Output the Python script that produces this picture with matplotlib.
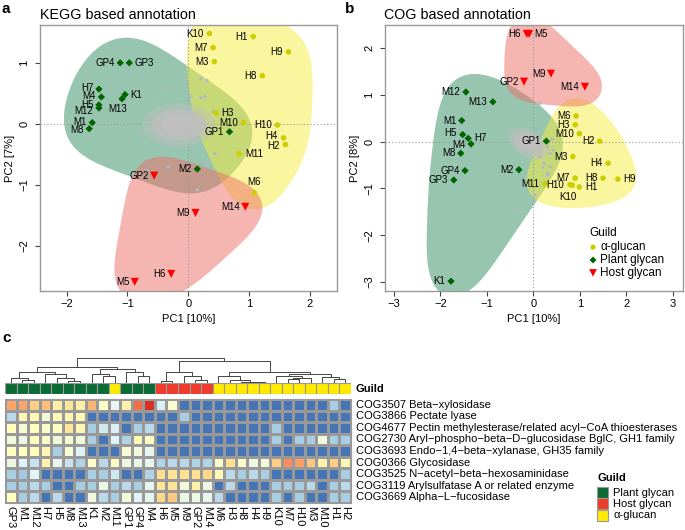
import numpy as np
import matplotlib
matplotlib.use('Agg')
import matplotlib.pyplot as plt
from matplotlib.patches import Polygon, Ellipse, Rectangle
from matplotlib.colors import LinearSegmentedColormap

plt.rcParams['font.family'] = ['Liberation Sans', 'DejaVu Sans']

# ---------------- data ----------------
samples = ['H1', 'H2', 'H3', 'H4', 'H5', 'H6', 'H7', 'H8', 'H9', 'H10',
           'M1', 'M2', 'M3', 'M4', 'M5', 'M6', 'M7', 'M8', 'M9', 'M10',
           'M11', 'M12', 'M13', 'M14', 'K1', 'K10', 'GP1', 'GP2', 'GP3', 'GP4']
guild = ['A', 'A', 'A', 'A', 'P', 'H', 'P', 'A', 'A', 'A',
         'P', 'P', 'A', 'P', 'H', 'A', 'A', 'P', 'H', 'A',
         'A', 'P', 'P', 'H', 'P', 'A', 'P', 'H', 'P', 'P']

kegg_pc1 = [1.07, 1.60, 0.46, 1.57, -1.47, -0.28, -1.47, 1.22, 1.65, 1.47,
            -1.58, 0.15, 0.43, -1.43, -0.88, 1.09, 0.41, -1.63, 0.12, 0.91,
            0.84, -1.47, -1.09, 0.94, -1.04, 0.35, 0.68, -0.56, -0.97, -1.12]
kegg_pc2 = [1.43, -0.34, 0.18, -0.23, 0.31, -2.46, 0.57, 0.79, 1.18, -0.02,
            0.02, -0.74, 1.02, 0.44, -2.59, -1.13, 1.25, -0.08, -1.46, 0.02,
            -0.49, 0.26, 0.41, -1.36, 0.48, 1.48, -0.13, -0.85, 1.00, 1.00]

cog_pc1 = [0.99, 1.43, 0.90, 1.61, -1.52, -0.14, -1.40, 1.50, 1.82, 0.79,
           -1.54, -0.31, 0.85, -1.34, -0.09, 0.92, 0.90, -1.56, 0.38, 0.99,
           0.25, -1.45, -0.87, 1.11, -1.77, 0.84, 0.28, -0.20, -1.71, -1.47]
cog_pc2 = [-0.97, 0.01, 0.36, -0.46, 0.15, 2.30, 0.07, -0.78, -0.80, -0.92,
           0.45, -0.60, -0.32, -0.05, 2.30, 0.55, -0.78, -0.25, 1.45, 0.17,
           -0.90, 1.06, 0.85, 1.17, -2.98, -0.93, 0.01, 1.28, -0.82, -0.62]

# scattered gene loadings (grey dots outside the dense core)
cloud_a_x = [0.21, 0.31, 0.21, 0.28, 0.41, -0.38, -0.68, -0.75, -0.36, -0.68, -0.33, 0.15, 0.31, 0.44, -0.55, 0.05]
cloud_a_y = [0.74, 0.71, 0.43, 0.45, 0.20, 0.58, 0.12, -0.14, -0.33, -0.77, -0.70, -1.08, -0.67, -0.49, 0.35, 0.45]
cloud_b_x = [0.14, 0.31, 0.43, 0.36, 0.14, 0.23, 0.31, 0.04, -0.35, 0.21, 0.36, 0.31, -0.55, 0.40]
cloud_b_y = [0.82, -0.11, -0.18, -0.25, -0.32, -0.46, -0.71, -1.14, -1.43, -0.55, -0.54, -0.68, 0.25, 0.05]

# heatmap
col_order = ['GP3', 'M1', 'M12', 'H7', 'H5', 'M8', 'M13', 'K1', 'M2', 'M11',
             'GP1', 'GP4', 'M4', 'H6', 'M5', 'M9', 'GP2', 'M14', 'M6', 'H3',
             'H8', 'H4', 'H9', 'K10', 'M7', 'H10', 'M3', 'M10', 'H1', 'H2']
row_labels = ['COG3507 Beta\u2212xylosidase',
              'COG3866 Pectate lyase',
              'COG4677 Pectin methylesterase/related acyl\u2212CoA thioesterases',
              'COG2730 Aryl\u2212phospho\u2212beta\u2212D\u2212glucosidase BglC, GH1 family',
              'COG3693 Endo\u22121,4\u2212beta\u2212xylanase, GH35 family',
              'COG0366 Glycosidase',
              'COG3525 N\u2212acetyl\u2212beta\u2212hexosaminidase',
              'COG3119 Arylsulfatase A or related enzyme',
              'COG3669 Alpha\u2212L\u2212fucosidase']
heat = [
    [4.7, 4.7, 4.2, 4.4, 3.5, 3.8, 3.5, 4.5, 2.8, 2.2, 3.4, 5.3, 6.0, 1.9, 2.7,
     0, 0, 0, 0, 0, 0, 0, 0, 0, 0, 0, 0, 0, 1.3, 0],
    [1.5, 3.3, 3.2, 2.6, 3.2, 3.3, 3.2, 0, 0, 0, 0, 0, 0, 0, 0,
     1.3, 0, 0, 0, 0, 0, 0, 0, 0, 0, 0, 0, 0, 0, 0],
    [3.0, 2.7, 3.0, 2.8, 3.0, 3.8, 3.3, 1.3, 1.8, 1.9, 0, 1.3, 1.5, 0, 0,
     0, 0, 0, 0, 0, 0, 0, 0, 1.3, 0, 0, 0, 0, 0, 0],
    [2.5, 2.4, 3.0, 2.8, 2.5, 2.7, 2.5, 1.3, 0, 2.0, 1.4, 3.2, 2.9, 0, 0,
     0, 0, 0, 0, 0, 0, 0, 0, 1.3, 0, 1.3, 1.3, 2.5, 1.3, 1.3],
    [3.0, 3.0, 3.1, 3.3, 1.3, 2.7, 2.0, 0, 0, 0, 2.6, 2.5, 2.2, 0, 0,
     0, 0, 0, 0, 0, 0, 0, 0, 0, 0, 0, 0, 0, 0, 0],
    [2.4, 2.0, 1.7, 3.4, 2.2, 1.7, 1.4, 2.9, 1.5, 2.9, 2.4, 2.3, 2.2, 1.4, 1.5,
     1.5, 1.4, 1.4, 2.8, 4.0, 2.8, 2.4, 2.6, 4.2, 5.0, 4.8, 4.3, 3.4, 4.2, 3.2],
    [1.3, 1.2, 2.0, 0, 0, 0, 0, 1.3, 1.3, 1.8, 0, 0, 1.4, 4.0, 3.9,
     4.0, 4.0, 4.1, 3.2, 1.5, 1.3, 1.5, 1.3, 0, 0, 0, 0, 0, 0, 1.3],
    [1.3, 1.3, 1.5, 1.3, 0, 0, 1.3, 1.3, 2.3, 1.3, 1.5, 1.3, 2.2, 3.8, 3.9,
     2.6, 3.5, 2.4, 0, 1.5, 0, 0, 0, 1.3, 1.3, 1.3, 1.5, 0, 1.3, 1.5],
    [3.0, 1.3, 1.5, 0, 1.5, 0, 0, 2.5, 1.5, 1.3, 2.6, 2.0, 2.2, 4.1, 4.3,
     2.3, 2.4, 2.2, 1.5, 0, 0, 0, 0, 1.3, 0, 1.3, 0, 0, 1.3, 1.3],
]
# column dendrogram: (height, left, right), leaves = column positions
dendro = (1.0,
          (0.65,
           (0.45, (0.20, 0, (0.12, 1, 2)), (0.35, 3, (0.20, 4, (0.09, 5, 6)))),
           (0.58, (0.35, 7, (0.27, 8, 9)), (0.45, 10, (0.27, 11, 12)))),
          (0.88,
           (0.45, (0.09, 13, 14), (0.27, 15, (0.12, 16, 17))),
           (0.45,
            (0.27, 18, (0.12, 19, (0.05, 20, (0.04, 21, 22)))),
            (0.35, (0.30, 23, (0.20, (0.15, 24, 25), 26)), (0.25, 27, (0.15, 28, 29))))))

# ---------------- styles ----------------
pt_col = {'A': '#cdcd00', 'P': '#006400', 'H': '#ff0000'}
pt_mark = {'A': 'o', 'P': 'D', 'H': 'v'}
pt_size = {'A': 16, 'P': 14, 'H': 34}
hull_col = {'A': (0.97, 0.93, 0.25, 0.5), 'P': (0.14, 0.52, 0.34, 0.47), 'H': (0.93, 0.43, 0.40, 0.5)}
guild_bar_col = {'P': '#0b6b35', 'H': '#ee3b2c', 'A': '#ffea00'}
hull_r_a = {'P': 0.5, 'A': 0.42, 'H': 0.4}
hull_r_b = {'P': 0.55, 'A': 0.48, 'H': 0.45}

# label placement: side and extra vertical shift (points)
lab_a = {'H1': 'l', 'H2': 'l', 'H3': 'r', 'H4': 'l', 'H5': 'l', 'H6': 'l', 'H7': 'l', 'H8': 'l',
         'H9': 'l', 'H10': 'l', 'M1': 'l', 'M2': 'l', 'M3': 'l', 'M4': 'l', 'M5': 'l', 'M6': 't',
         'M7': 'l', 'M8': 'l', 'M9': 'l', 'M10': 'l', 'M11': 'r', 'M12': 'l', 'M13': 'b',
         'M14': 'l', 'K1': 'r', 'K10': 'l', 'GP1': 'l', 'GP2': 'l', 'GP3': 'r', 'GP4': 'l'}
dy_a = {'H7': 1.0, 'M4': 0.5, 'H5': 0.0, 'M12': -2.5, 'M1': 0.5, 'M8': -1.2, 'H4': 1.0, 'H2': -1.0}
lab_b = {k: 'l' for k in samples}
lab_b.update({'M5': 'r', 'H7': 'r', 'H9': 'r', 'H1': 'r', 'K10': 'b'})
dy_b = {'H5': 1.0, 'M4': -1.0, 'K10': -1.0}


def convex_hull(p):
    p = sorted(set(map(tuple, p)))
    def cross(o, a, b):
        return (a[0]-o[0])*(b[1]-o[1]) - (a[1]-o[1])*(b[0]-o[0])
    lower, upper = [], []
    for q in p:
        while len(lower) >= 2 and cross(lower[-2], lower[-1], q) <= 0:
            lower.pop()
        lower.append(q)
    for q in reversed(p):
        while len(upper) >= 2 and cross(upper[-2], upper[-1], q) <= 0:
            upper.pop()
        upper.append(q)
    return np.array(lower[:-1] + upper[:-1])


def blob_hull(x, y, r, win):
    pts = np.column_stack([x, y])
    th = np.linspace(0, 2*np.pi, 64, endpoint=False)
    circ = (pts[:, None, :] + r * np.stack([np.cos(th), np.sin(th)], axis=1)[None]).reshape(-1, 2)
    poly = convex_hull(circ)
    closed = np.vstack([poly, poly[:1]])
    seg = np.hypot(*np.diff(closed, axis=0).T)
    cum = np.concatenate([[0], np.cumsum(seg)])
    N = 400
    tt = np.linspace(0, cum[-1], N, endpoint=False)
    rs = np.column_stack([np.interp(tt, cum, closed[:, 0]), np.interp(tt, cum, closed[:, 1])])
    k = max(1, int(win * N))
    kern = np.ones(2*k+1) / (2*k+1)
    for _ in range(2):
        ext = np.vstack([rs[-k:], rs, rs[:k]])
        rs = np.column_stack([np.convolve(ext[:, 0], kern, 'valid'), np.convolve(ext[:, 1], kern, 'valid')])
    return rs


W, H = 685, 530
fig = plt.figure(figsize=(W/100, H/100), dpi=100)


def fax(l, t, r, b):
    return fig.add_axes([l/W, 1-b/H, (r-l)/W, (b-t)/H])


def pca_panel(ax, px, py, cx, cy, core, labpos, dys, radii, win, xlim, ylim, xt, yt, ylabel):
    px = np.array(px); py = np.array(py)
    g = np.array(guild)
    for k in ['P', 'A', 'H']:
        m = g == k
        poly = blob_hull(px[m], py[m], radii[k], win)
        ax.add_patch(Polygon(poly, closed=True, facecolor=hull_col[k], edgecolor='none', zorder=1))
    # dense core of loadings
    for (w, hgt, a) in [(1.2, 0.95, 0.45), (0.9, 0.68, 0.8), (0.6, 0.45, 1.0)]:
        ax.add_patch(Ellipse(core[:2], w*core[2], hgt*core[3], angle=core[4], facecolor=(0.75, 0.75, 0.75, a),
                             edgecolor='none', zorder=2))
    ax.scatter(cx, cy, s=6, color='#b2b8c8', edgecolors='none', zorder=2)
    ax.axhline(0, color='#999999', ls=(0, (1, 2)), lw=0.8, zorder=1.5)
    ax.axvline(0, color='#999999', ls=(0, (1, 2)), lw=0.8, zorder=1.5)
    for k in ['A', 'P', 'H']:
        m = g == k
        ax.scatter(px[m], py[m], s=pt_size[k], marker=pt_mark[k], color=pt_col[k], edgecolors='none', zorder=4)
    for i, sname in enumerate(samples):
        pos = labpos[sname]
        dy = dys.get(sname, 0)
        if pos == 'l':
            off, ha, va = (-4, dy), 'right', 'center'
        elif pos == 'r':
            off, ha, va = (4, dy), 'left', 'center'
        elif pos == 't':
            off, ha, va = (0, 4 + dy), 'center', 'bottom'
        else:
            off, ha, va = (-3, -4 + dy), 'center', 'top'
        ax.annotate(sname, (px[i], py[i]), xytext=off, textcoords='offset points', ha=ha, va=va,
                    fontsize=7, zorder=5)
    ax.set_xlim(*xlim); ax.set_ylim(*ylim)
    ax.set_xticks(xt); ax.set_yticks(yt)
    ax.tick_params(direction='out', length=3.6, width=0.8, color='#444444', labelsize=8, pad=2.5)
    ax.tick_params(axis='y', labelrotation=90, pad=4)
    for lb in ax.get_yticklabels():
        lb.set_va('center')
    for sp in ax.spines.values():
        sp.set_color('#999999'); sp.set_linewidth(1.0)
    ax.set_xlabel('PC1 [10%]', fontsize=8, labelpad=3)
    ax.set_ylabel(ylabel, fontsize=8, labelpad=3)


axa = fax(40, 25, 337, 291)
pca_panel(axa, kegg_pc1, kegg_pc2, cloud_a_x, cloud_a_y, (-0.15, -0.02, 1.0, 0.75, 0), lab_a, dy_a, hull_r_a, 0.05,
          (-2.44, 2.45), (-2.74, 1.62), [-2, -1, 0, 1, 2], [-2, -1, 0, 1], 'PC2 [7%]')
axb = fax(385, 25, 683, 291)
pca_panel(axb, cog_pc1, cog_pc2, cloud_b_x, cloud_b_y, (-0.1, -0.04, 0.8, 0.6, -30), lab_b, dy_b, hull_r_b, 0.05,
          (-3.19, 3.22), (-3.19, 2.49), [-3, -2, -1, 0, 1, 2, 3], [-3, -2, -1, 0, 1, 2], 'PC2 [8%]')

fig.text(40/W, 1-15/H, 'KEGG based annotation', fontsize=10.3, va='center', ha='left')
fig.text(384/W, 1-15/H, 'COG based annotation', fontsize=10.3, va='center', ha='left')
fig.text(2/W, 1-9/H, 'a', fontsize=11, fontweight='bold', va='center', ha='left')
fig.text(345/W, 1-9/H, 'b', fontsize=11, fontweight='bold', va='center', ha='left')
fig.text(2/W, 1-338/H, 'c', fontsize=11, fontweight='bold', va='center', ha='left')

# legend in b
axb.text(0.685, 0.218, 'Guild', transform=axb.transAxes, fontsize=8.5, va='center', ha='left')
for j, (k, name) in enumerate([('A', '\u03b1-glucan'), ('P', 'Plant glycan'), ('H', 'Host glycan')]):
    yy = 0.165 - j*0.0485
    axb.scatter([0.698], [yy], s=pt_size[k]*0.9, marker=pt_mark[k], color=pt_col[k], edgecolors='none',
                transform=axb.transAxes, clip_on=False, zorder=6)
    axb.text(0.722, yy, name, transform=axb.transAxes, fontsize=8.5, va='center', ha='left')

# ---------------- heatmap ----------------
cmap = LinearSegmentedColormap.from_list('rdylbu_r', ['#4575B4', '#91BFDB', '#E0F3F8', '#FFFFBF',
                                                      '#FEE090', '#FC8D59', '#D73027'])
ncol = len(col_order); nrow = len(row_labels)
axh = fax(5, 399, 351, 503)
axh.pcolormesh(np.arange(ncol+1), np.arange(nrow+1), np.array(heat), cmap=cmap, vmin=0, vmax=6,
               edgecolors='#999999', linewidth=0.8)
axh.set_xlim(0, ncol); axh.set_ylim(nrow, 0)
axh.set_xticks(np.arange(ncol)+0.5)
axh.set_xticklabels(col_order, rotation=-90, fontsize=8)
axh.set_yticks([])
axh.tick_params(axis='x', length=0, pad=2)
for sp in axh.spines.values():
    sp.set_color('#999999'); sp.set_linewidth(0.8)
for j, lab in enumerate(row_labels):
    axh.text(ncol + 0.43, j + 0.5, lab, fontsize=8, va='center', ha='left')

axg = fax(5, 383, 351, 394)
gmap = dict(zip(samples, guild))
for i, sname in enumerate(col_order):
    axg.add_patch(Rectangle((i, 0), 1, 1, facecolor=guild_bar_col[gmap[sname]], edgecolor='#999999', lw=0.8))
axg.set_xlim(0, ncol); axg.set_ylim(0, 1)
axg.axis('off')
axg.text(ncol + 0.43, 0.5, 'Guild', fontsize=8, fontweight='bold', va='center', ha='left')

axd = fax(5, 358, 351, 383)
axd.set_xlim(0, ncol); axd.set_ylim(0, 1.02)
axd.axis('off')


def draw_node(node):
    if isinstance(node, int):
        return node + 0.5, 0.0
    hgt, l, r = node
    xl, hl = draw_node(l)
    xr, hr = draw_node(r)
    axd.plot([xl, xl, xr, xr], [hl, hgt, hgt, hr], color='#444444', lw=0.7, solid_capstyle='butt')
    return (xl + xr) / 2, hgt


draw_node(dendro)

# heatmap legend
fig.text(598/W, 1-478/H, 'Guild', fontsize=8, fontweight='bold', va='center', ha='left')
for j, (k, name) in enumerate([('P', 'Plant glycan'), ('H', 'Host glycan'), ('A', '\u03b1-glucan')]):
    top = 487 + j*11.3
    fig.add_artist(Rectangle((597/W, 1-(top+11)/H), 11/W, 11/H, transform=fig.transFigure,
                             facecolor=guild_bar_col[k], edgecolor='#999999', lw=0.8))
    fig.text(613/W, 1-(top+5.5)/H, name, fontsize=8, va='center', ha='left')

fig.savefig('out.png', dpi=100)
